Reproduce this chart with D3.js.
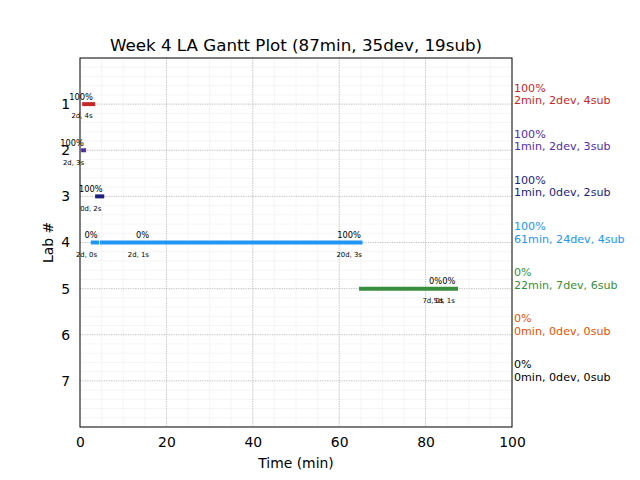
<!DOCTYPE html>
<html><head><meta charset="utf-8">
<script src="https://cdn.jsdelivr.net/npm/d3@7"></script>
<style>
body{margin:0;background:#fff;}
text{font-family:"DejaVu Sans",sans-serif;}
</style></head>
<body><svg id="c" width="640" height="480"></svg>
<script>
const title = "Week 4 LA Gantt Plot (87min, 35dev, 19sub)";
const labs = [1, 2, 3, 4, 5, 6, 7];
const labColors = ["#c62828", "#512da8", "#1a237e", "#2196f3", "#388e3c", "#e65100", "#000000"];
const labPct = ["100%", "100%", "100%", "100%", "0%", "0%", "0%"];
const labSummary = ["2min, 2dev, 4sub", "1min, 2dev, 3sub", "1min, 0dev, 2sub", "61min, 24dev, 4sub", "22min, 7dev, 6sub", "0min, 0dev, 0sub", "0min, 0dev, 0sub"];
// bar segments
const segLab = [1, 2, 3, 4, 4, 5];
const segStart = [0.5, 0.25, 3.5, 2.5, 4.6, 64.6];
const segEnd = [3.5, 1.4, 5.6, 4.4, 65.4, 87.5];
// annotations
const annLab = [1, 2, 3, 4, 4, 4, 5, 5];
const annPctX = [0.25, -1.85, 2.5, 2.55, 14.5, 62.3, 82.3, 85.4];
const annPct = ["100%", "100%", "100%", "0%", "0%", "100%", "0%", "0%"];
const annSubX = [0.45, -1.5, 2.5, 1.5, 13.5, 62.3, 81.7, 84.3];
const annSub = ["2d, 4s", "2d, 3s", "0d, 2s", "2d, 0s", "2d, 1s", "20d, 3s", "7d, 0s", "5d, 1s"];
const xTicks = [0, 20, 40, 60, 80, 100];

const svg = d3.select("#c");
const L = 80, R = 512, T = 58, B = 427;
const x = d3.scaleLinear().domain([0, 100]).range([L, R]);
const y = d3.scaleLinear().domain([0, 8]).range([T, B]);

// minor grid
const g = svg.append("g");
g.selectAll(".mx").data(d3.range(0, 101, 5)).enter().append("line")
  .attr("x1", d => x(d)).attr("x2", d => x(d)).attr("y1", T).attr("y2", B)
  .attr("stroke", "#f3f3f3").attr("stroke-width", 0.8);
g.selectAll(".my").data(d3.range(0, 41).map(i => i * 0.2)).enter().append("line")
  .attr("y1", d => y(d)).attr("y2", d => y(d)).attr("x1", L).attr("x2", R)
  .attr("stroke", "#f3f3f3").attr("stroke-width", 0.8);
// major grid
g.selectAll(".gx").data(xTicks.slice(1, -1)).enter().append("line")
  .attr("x1", d => x(d)).attr("x2", d => x(d)).attr("y1", T).attr("y2", B)
  .attr("stroke", "#b0b0b0").attr("stroke-width", 0.8).attr("stroke-dasharray", "1,1.4");
g.selectAll(".gy").data(labs).enter().append("line")
  .attr("y1", d => y(d)).attr("y2", d => y(d)).attr("x1", L).attr("x2", R)
  .attr("stroke", "#b0b0b0").attr("stroke-width", 0.8).attr("stroke-dasharray", "1,1.4");

// bars
svg.append("g").selectAll("line").data(segLab).enter().append("line")
  .attr("x1", (d, i) => x(segStart[i])).attr("x2", (d, i) => x(segEnd[i]))
  .attr("y1", d => y(d)).attr("y2", d => y(d))
  .attr("stroke", d => labColors[d - 1]).attr("stroke-width", 4);

// annotations
const ag = svg.append("g");
ag.selectAll(".ap").data(annLab).enter().append("text")
  .attr("x", (d, i) => x(annPctX[i])).attr("y", d => y(d - 0.1))
  .attr("text-anchor", "middle").attr("font-size", 8.3).text((d, i) => annPct[i]);
ag.selectAll(".as").data(annLab).enter().append("text")
  .attr("x", (d, i) => x(annSubX[i])).attr("y", d => y(d + 0.31))
  .attr("text-anchor", "middle").attr("font-size", 6.9).text((d, i) => annSub[i]);

// right labels
const rg = svg.append("g");
labs.forEach((d, i) => {
  rg.append("text").attr("x", R + 2).attr("y", y(d) - 12.5)
    .attr("font-size", 11.1).attr("fill", labColors[i]).text(labPct[i]);
  rg.append("text").attr("x", R + 2).attr("y", y(d))
    .attr("font-size", 11.1).attr("fill", labColors[i]).text(labSummary[i]);
});

// axes
const xa = svg.append("g").attr("transform", `translate(0,${B})`)
  .call(d3.axisBottom(x).tickValues(xTicks).tickSize(0).tickPadding(10));
const ya = svg.append("g").attr("transform", `translate(${L},0)`)
  .call(d3.axisLeft(y).tickValues(labs).tickSize(0).tickPadding(10));
[xa, ya].forEach(a => {
  a.select(".domain").remove();
  a.selectAll("text").attr("font-size", 13.9).attr("font-family", "DejaVu Sans").attr("fill", "#000");
});
// frame
svg.append("rect").attr("x", L).attr("y", T).attr("width", R - L).attr("height", B - T)
  .attr("fill", "none").attr("stroke", "#000").attr("stroke-width", 1);

svg.append("text").attr("x", (L + R) / 2).attr("y", 51).attr("text-anchor", "middle")
  .attr("font-size", 16.7).text(title);
svg.append("text").attr("x", (L + R) / 2).attr("y", 468).attr("text-anchor", "middle")
  .attr("font-size", 13.9).text("Time (min)");
svg.append("text").attr("transform", `translate(53,${(T + B) / 2}) rotate(-90)`)
  .attr("text-anchor", "middle").attr("font-size", 13.9).text("Lab #");
</script></body></html>
